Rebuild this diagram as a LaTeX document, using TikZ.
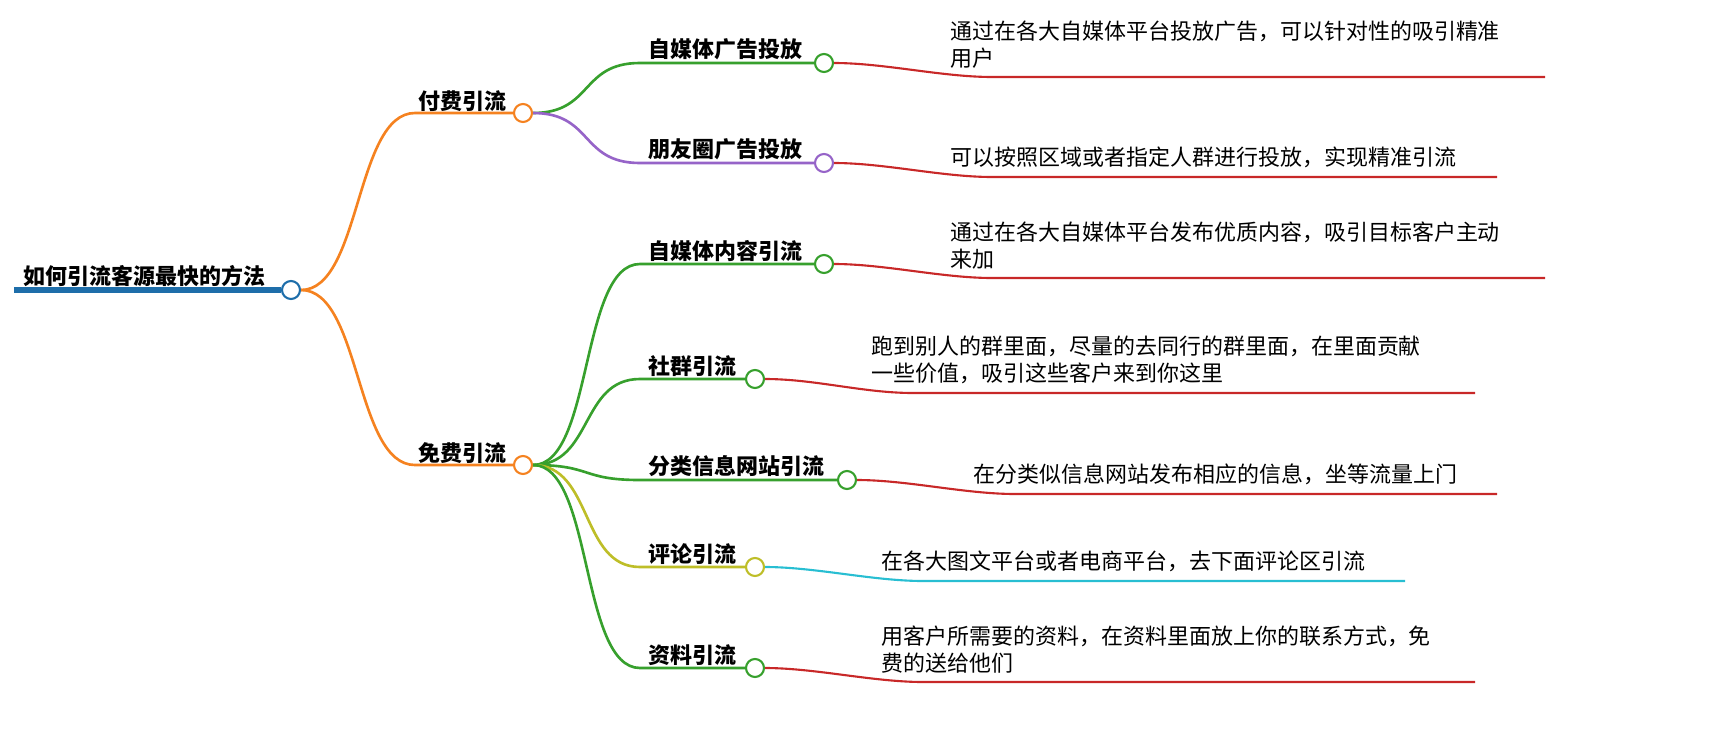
\documentclass[tikz,border=0pt]{standalone}
\usepackage{fontspec}
\newfontfamily\cjk{Noto Sans CJK SC}
\usepackage{tikz}
\usetikzlibrary{positioning,calc}
\definecolor{rootblue}{RGB}{30,110,170}
\definecolor{branchorange}{RGB}{245,130,32}
\definecolor{leafgreen}{RGB}{55,160,45}
\definecolor{leafpurple}{RGB}{150,100,200}
\definecolor{leafolive}{RGB}{190,190,40}
\definecolor{notered}{RGB}{200,40,40}
\definecolor{notecyan}{RGB}{40,190,210}
\newlength{\pxu}\setlength{\pxu}{0.02cm}
\tikzset{
    knot/.style={circle, draw=#1, fill=white, line width=1.2pt, minimum size=18\pxu, inner sep=0pt},
    topic/.style={anchor=south west, inner sep=2pt, font=\cjk\bfseries\fontsize{12.5}{15}\selectfont},
    note/.style={anchor=south west, inner sep=2pt, align=left, font=\cjk\fontsize{12.5}{15.5}\selectfont},
    link/.style={line width=1.5pt}
}
\begin{document}
\begin{tikzpicture}[x=0.02cm, y=-0.02cm]
    \useasboundingbox (0,0) rectangle (1709,754);

    % Root
    \coordinate (rootL) at (14,290);
    \node[knot=rootblue] (root) at (291,290) {};
    \draw[rootblue, line width=3pt] (rootL) -- (root.west);
    \node[topic] at (20,291) {如何引流客源最快的方法};

    % Paid / free branches
    \foreach \name/\y/\txt in {paid/113/付费引流, free/465/免费引流} {
        \coordinate (\name L) at (415,\y);
        \node[knot=branchorange] (\name) at (523,\y) {};
        \node[topic] at (415,\y+2) {\txt};
        \draw[branchorange, link] (root.east) .. controls +(60,0) and +(-60,0) .. (\name L) -- (\name.west);
    }

    % Leaves
    \foreach \name/\up/\y/\cx/\col/\ncol/\nend/\nx/\txt/\notetxt in {
        ad/paid/63/824/leafgreen/notered/1545/952/自媒体广告投放/{通过在各大自媒体平台投放广告，可以针对性的吸引精准\\用户},
        moment/paid/163/824/leafpurple/notered/1497/952/朋友圈广告投放/{可以按照区域或者指定人群进行投放，实现精准引流},
        content/free/264/824/leafgreen/notered/1545/952/自媒体内容引流/{通过在各大自媒体平台发布优质内容，吸引目标客户主动\\来加},
        group/free/379/755/leafgreen/notered/1475/873/社群引流/{跑到别人的群里面，尽量的去同行的群里面，在里面贡献\\一些价值，吸引这些客户来到你这里},
        site/free/480/847/leafgreen/notered/1497/975/分类信息网站引流/{在分类似信息网站发布相应的信息，坐等流量上门},
        comment/free/567/755/leafolive/notecyan/1405/883/评论引流/{在各大图文平台或者电商平台，去下面评论区引流},
        file/free/668/755/leafgreen/notered/1475/883/资料引流/{用客户所需要的资料，在资料里面放上你的联系方式，免\\费的送给他们}} {
        \coordinate (\name L) at (640,\y);
        \node[knot=\col] (\name) at (\cx,\y) {};
        \node[topic] at (645,\y+1) {\txt};
        \draw[\col, link] (\up.east) .. controls +(60,0) and +(-60,0) .. (\name L) -- (\name.west);
        \coordinate (\name N) at (\nx+40,\y+14);
        \coordinate (\name E) at (\nend,\y+14);
        \draw[\ncol, line width=1.2pt] (\name.east) .. controls +(50,0) and +(-50,0) .. (\name N) -- (\name E);
        \node[note] at (\nx-5,\y+9) {\notetxt};
    }
\end{tikzpicture}
\end{document}
